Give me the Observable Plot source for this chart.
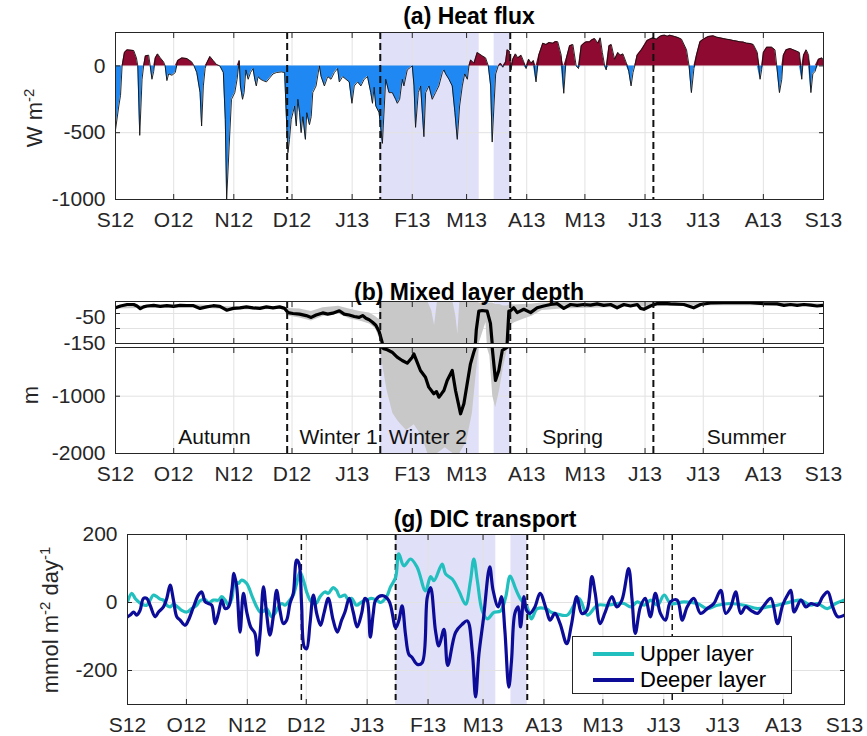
<!DOCTYPE html>
<html><head><meta charset="utf-8">
<script src="https://cdn.jsdelivr.net/npm/d3@7"></script>
<script src="https://cdn.jsdelivr.net/npm/@observablehq/plot@0.6"></script>
<style>
body{margin:0;background:#fff;}
#root{position:relative;width:867px;height:736px;font-family:"Liberation Sans",Arial,Helvetica,sans-serif;color:#262626;overflow:hidden;background:#fff}
#root svg{position:absolute;left:0}
.title{position:absolute;font-weight:bold;font-size:23px;line-height:23px;color:#000;transform:translateX(-50%);white-space:nowrap}
.ylab{position:absolute;font-size:22px;line-height:22px;color:#262626;transform:translate(-50%,-50%) rotate(-90deg);white-space:nowrap}
.ylab sup{font-size:0.68em;vertical-align:0.55em}
.legend{position:absolute;border:1px solid #262626;background:#fff;font-size:22px;color:#000}
.legend .row{position:absolute;left:20px;height:24px;display:flex;align-items:center}
.legend .sw{width:41px;height:4px;margin-right:6px}
</style></head>
<body><div id="root"></div>
<script>
// ---------------- DATA ----------------
const startDay = Date.UTC(2012, 8, 1); // day 0 = 1 Sep 2012
const tickLabels = ["S12","O12","N12","D12","J13","F13","M13","A13","M13","J13","J13","A13","S13"];
const boundaryDays = [88.5, 136.5, 203.5, 277.3];         // dashed season boundaries
const shadeDays = [[136.5, 187.5], [195.2, 203.5]];         // lavender periods
const seasonNames = ["Autumn", "Winter 1", "Winter 2", "Spring", "Summer"];
const seasonLabelDays = [51, 115, 161, 235.6, 325.3];

// (a) heat flux [day, W m-2]
const heatFlux = [[0,-480],[1.7,-300],[2.6,-220],[3.4,0],[4.6,100],[6.0,120],[9.4,115],[10.8,60],[11.5,0],[12.5,-520],[13.7,-100],[14.5,0],[15.4,75],[17.1,80],[17.9,0],[18.8,-100],[19.7,-40],[20.5,60],[21.7,90],[23.1,60],[24.8,30],[25.6,0],[26.5,-110],[27.4,-60],[29.1,-70],[30.8,-50],[32.1,40],[34.2,60],[36.8,55],[39.3,30],[40.5,0],[41.9,-50],[43.6,-200],[44.4,-450],[45.3,-150],[46.2,-20],[47.0,20],[48.7,70],[50.4,40],[52.1,10],[53.8,0],[55.6,-50],[56.6,-400],[57.3,-1000],[58.6,-600],[59.8,-250],[61.5,-200],[62.7,-100],[63.8,40],[64.4,-150],[65.5,-250],[66.3,-200],[67.2,-30],[68.4,-100],[69.6,-50],[70.9,-20],[71.8,-100],[72.6,-150],[73.5,-80],[74.7,-100],[76.1,-110],[77.8,-120],[79.5,-90],[81.2,-60],[82.9,-50],[85.5,-45],[87.2,-50],[88.0,-350],[88.9,-650],[89.7,-550],[90.6,-400],[91.5,-350],[92.3,-300],[93.2,-450],[94.0,-250],[94.9,-350],[95.7,-500],[96.6,-380],[97.9,-550],[98.6,-350],[100.0,-440],[100.9,-380],[101.7,-200],[103.4,-150],[105.1,0],[106.0,-80],[107.7,-150],[109.4,-80],[111.1,-100],[112.8,-50],[114.5,-20],[115.4,-120],[117.1,-80],[118.8,-100],[120.5,-120],[121.9,-280],[123.1,-150],[124.8,-120],[126.5,-150],[128.2,-100],[129.9,-80],[131.6,-200],[132.5,-280],[133.3,-160],[134.2,-300],[135.9,-350],[137.6,-580],[139.3,-100],[141.0,-200],[142.7,-200],[144.4,-250],[145.3,-280],[146.5,-250],[147.8,-100],[148.7,-150],[150.4,-30],[152.1,-10],[153.0,0],[153.9,-150],[154.7,-460],[156.1,-200],[157.3,-150],[159.0,-530],[159.9,-200],[161.6,-150],[163.3,-250],[165.0,-200],[166.7,-150],[168.5,-50],[169.3,-30],[170.2,-60],[171.9,-100],[173.6,-150],[175.0,-350],[176.2,-550],[177.4,-300],[178.8,-150],[180.0,-60],[181.4,-100],[182.2,0],[183.1,45],[184.8,20],[186.5,100],[189.1,75],[190.8,60],[192.2,0],[193.4,-150],[194.2,-570],[195.1,-300],[196.0,-60],[197.3,0],[198.5,20],[199.7,-10],[201.1,30],[201.9,120],[203.1,110],[203.9,-30],[204.8,50],[206.2,90],[207.4,60],[209.1,80],[210.5,30],[211.7,-20],[213.0,50],[214.3,20],[215.5,40],[216.8,-120],[218.2,80],[220.3,170],[222.0,160],[223.5,175],[225.5,170],[226.8,182],[228.0,180],[229.8,80],[231.1,-205],[232.3,50],[234.1,150],[235.8,160],[237.5,0],[238.7,-20],[240.1,150],[241.5,170],[242.7,180],[244.4,180],[245.6,195],[247.0,205],[248.7,170],[249.9,210],[251.0,100],[252.2,0],[253.0,-30],[254.4,150],[255.6,160],[257.3,50],[259.0,100],[260.3,80],[261.6,90],[263.4,20],[264.6,-40],[265.8,-150],[266.8,-50],[267.7,0],[268.9,80],[271.1,120],[272.8,160],[274.0,190],[275.4,200],[277.1,210],[278.9,200],[280.6,220],[281.8,228],[283.2,230],[284.5,222],[285.8,230],[288.3,220],[290.0,212],[291.8,200],[294.4,120],[295.7,0],[296.9,-200],[298.2,-20],[299.5,80],[301.3,180],[303.0,200],[305.6,220],[308.2,225],[310.0,215],[311.6,210],[313.3,205],[315.0,200],[316.8,196],[318.5,190],[320.2,186],[321.9,180],[323.7,178],[325.4,170],[327.1,168],[328.8,160],[330.9,100],[332.3,-100],[333.1,-30],[334.0,100],[335.7,140],[338.3,140],[340.0,120],[340.9,0],[342.3,-200],[343.5,-100],[344.3,80],[345.7,120],[347.8,130],[349.5,120],[351.2,110],[352.6,100],[353.8,-100],[354.7,80],[356.1,120],[357.3,80],[358.5,-200],[359.5,-60],[360.7,-40],[362.4,50],[364.2,60],[365,40]];

// (b) mixed layer depth [day, m]
const mld = [[0,-31],[2.6,-25],[6.0,-20],[9.4,-20],[11.1,-25],[12.8,-34],[14.5,-28],[16.2,-25],[19.7,-23],[23.1,-26],[26.5,-24],[29.9,-26],[33.3,-23],[36.8,-24],[40.2,-24],[43.6,-33],[47.0,-28],[50.4,-24],[53.8,-26],[57.3,-39],[60.7,-33],[64.1,-31],[67.5,-28],[70.9,-31],[74.4,-33],[77.8,-28],[81.2,-31],[84.6,-28],[87.2,-33],[88.9,-47],[91.5,-50],[94.9,-52],[98.3,-57],[100.9,-63],[103.4,-55],[106.8,-48],[109.4,-52],[112.0,-49],[115.4,-41],[117.9,-52],[120.5,-55],[123.1,-60],[125.6,-63],[127.4,-57],[129.1,-66],[130.8,-71],[132.5,-79],[134.2,-89],[135.9,-110],[137.3,-142],[138.3,-170],[140.1,-190],[142.6,-232],[145.2,-319],[147.8,-377],[150.4,-424],[153.0,-319],[153.8,-261],[155.5,-406],[157.2,-551],[159.8,-668],[161.5,-842],[164.1,-958],[165.5,-920],[166.7,-1017],[168.0,-960],[169.3,-900],[171.0,-726],[173.6,-551],[175.3,-900],[177.9,-1307],[179.6,-1132],[181.3,-783],[183.0,-435],[184.7,-232],[186.0,-105],[187.3,-42],[189.0,-40],[191.6,-42],[193.3,-83],[194.2,-150],[195.9,-726],[197.6,-551],[199.4,-202],[201.9,-150],[202.8,-42],[203.6,-41],[205.3,-31],[207.1,-47],[210.5,-36],[214.0,-47],[217.4,-31],[220.8,-25],[224.3,-20],[227.7,-17],[231.1,-33],[234.6,-20],[238.0,-23],[241.4,-20],[244.9,-22],[248.3,-18],[251.7,-23],[255.2,-20],[258.6,-31],[262.1,-20],[265.5,-25],[269.0,-20],[270.7,-33],[272.4,-36],[275.8,-25],[279.3,-17],[282.7,-16],[286.1,-18],[293.0,-20],[298.1,-31],[301.6,-20],[306.7,-15],[313.6,-14],[320.5,-14],[327.3,-14],[334.2,-17],[341.1,-18],[344.6,-23],[348.0,-20],[351.4,-23],[354.9,-20],[358.3,-22],[361.7,-25],[365,-23]];
// (b) MLD uncertainty band [day, deep bound, shallow bound]
const mldBand = [[0,-35,-27],[40,-30,-20],[60,-38,-28],[87,-37,-28],[89,-58,-33],[95,-65,-35],[101,-75,-43],[107,-60,-31],[115,-52,-26],[121,-68,-36],[126,-75,-43],[131,-85,-48],[134,-100,-60],[136,-130,-70],[136.6,-170,-10],[138,-500,-10],[140,-900,-10],[143,-1300,-10],[146,-1450,-10],[150,-1600,-10],[154,-1500,-10],[158,-1700,-10],[161,-2000,-10],[163,-2000,-40],[164.5,-2000,-90],[166,-2000,-10],[170,-1900,-10],[174,-2000,-10],[175.5,-2000,-60],[176.5,-2000,-120],[177.5,-2000,-10],[181,-1800,-10],[184,-1300,-10],[186,-600,-12],[187.5,-150,-15],[191,-80,-15],[193,-300,-15],[194.5,-1000,-15],[196,-1200,-20],[198,-900,-20],[200,-500,-25],[202,-200,-25],[203.5,-90,-20],[206,-80,-22],[210,-70,-20],[215,-58,-18],[220,-40,-15],[230,-35,-14],[260,-30,-14],[300,-24,-11],[340,-24,-12],[365,-27,-18]];

// (g) DIC transport [day, mmol m-2 day-1]
const upperLayer = [[0,2],[2.2,27],[3.9,12],[5.6,2],[7.3,-5],[9.8,-8],[11.5,7],[13.2,22],[14.9,17],[16.6,10],[18.3,7],[20.0,-8],[21.7,-13],[23.4,-5],[25.1,-11],[27.6,-23],[30.2,-28],[32.7,-18],[35.3,-8],[36.9,5],[39.5,9],[41.2,-1],[43.7,7],[46.3,7],[48.0,17],[49.7,7],[51.4,-8],[53.1,12],[54.7,61],[56.4,56],[58.1,66],[60.7,56],[63.2,22],[65.8,-13],[67.5,-28],[69.2,-26],[70.8,-18],[73.4,-42],[75.1,-32],[76.8,-13],[78.5,-3],[80.2,-8],[81.9,2],[84.4,22],[86.1,56],[87.8,90],[89.5,66],[91.2,31],[92.9,7],[94.6,-3],[96.3,-1],[98.0,17],[100.5,31],[102.2,27],[104.7,44],[106.4,36],[108.1,17],[110.7,22],[112.4,7],[114.1,12],[116.6,-8],[119.2,2],[121.7,7],[124.2,12],[126.8,7],[128.8,0],[131.9,17],[133.9,46],[136.5,74],[138.1,143],[140.7,108],[144.1,128],[147.5,103],[151.7,34],[154.3,76],[156.0,64],[160.2,113],[161.9,84],[165.3,69],[168.7,34],[172.1,-5],[174.6,64],[176.3,128],[178.1,64],[180.6,-25],[183.2,-48],[186.5,-29],[189.9,-25],[192.5,15],[194.8,78],[197.6,40],[200.1,10],[203.5,-15],[205.6,-48],[208.6,-18],[213.7,-20],[215.4,-28],[218.8,-34],[223.9,-37],[229.8,12],[234.1,-37],[239.2,-8],[244.3,-8],[249.4,-3],[252.8,-3],[256.2,-13],[259.6,2],[263.0,-8],[266.4,7],[269.8,-8],[273.2,22],[276.5,-3],[283.3,2],[290.1,-3],[295.2,-18],[300.3,-8],[307.1,-3],[313.9,-8],[320.7,-18],[325.8,-13],[330.8,-8],[337.6,2],[342.7,7],[347.8,-8],[351.2,-3],[356.3,-18],[360.5,-3],[365,7]];
const deeperLayer = [[0,-42],[1.4,-37],[3.1,-28],[4.7,-37],[6.4,-23],[8.1,12],[9.8,12],[11.5,-8],[14.1,-42],[15.8,-28],[18.3,-13],[20.0,12],[21.7,51],[23.4,7],[25.1,-42],[26.8,-52],[29.3,-67],[31.0,-52],[33.6,-13],[36.1,22],[37.8,31],[39.5,2],[41.2,-3],[42.9,-8],[44.6,-62],[46.3,-32],[48.0,7],[49.7,-18],[51.4,-13],[53.1,36],[54.2,86],[55.6,46],[57.3,-87],[59.0,27],[60.7,-28],[62.7,-72],[64.9,-91],[66.1,-155],[67.5,-91],[69.2,46],[70.8,-32],[72.5,-96],[74.2,-42],[75.9,36],[77.6,-23],[79.3,-62],[81.0,-52],[82.7,-3],[84.4,27],[86.1,125],[87.3,115],[88.6,-3],[90.0,-131],[91.2,-136],[92.9,-62],[94.6,22],[96.3,-32],[98.3,-67],[100.0,-32],[102.2,12],[104.7,-52],[106.8,-87],[109.0,-52],[110.7,-28],[112.9,12],[114.9,-28],[116.9,-72],[119.2,-32],[120.8,12],[122.0,7],[123.6,-102],[125.1,-32],[126.4,8],[129.7,20],[133.1,5],[136.5,-74],[138.1,-54],[139.8,-10],[141.5,-93],[143.2,-152],[144.9,-162],[147.5,-182],[150.0,-177],[152.6,15],[154.3,44],[156.8,-84],[158.5,-128],[161.1,-79],[163.0,-185],[167.0,-88],[170.4,-64],[173.0,-54],[175.5,-143],[177.2,-278],[178.9,-152],[181.2,-48],[184.4,105],[186.1,36],[188.7,-13],[190.4,17],[192.1,-82],[194.1,-249],[195.5,-170],[197.2,-32],[198.9,-13],[200.1,-72],[201.8,17],[203.1,-23],[204.8,-32],[207.4,-13],[210.0,27],[213.3,-23],[215.1,-52],[217.6,-32],[220.2,-62],[223.6,-121],[226.1,-62],[228.7,17],[231.3,-32],[233.8,-23],[236.4,76],[238.1,27],[240.6,-62],[243.2,-28],[246.6,17],[249.1,-13],[251.7,7],[255.1,100],[256.8,12],[258.5,-91],[261.1,-13],[263.6,12],[266.2,-42],[268.7,27],[271.3,-32],[273.9,-52],[276.4,2],[279.8,7],[282.4,-52],[284.9,-13],[288.3,12],[291.7,-32],[295.1,-18],[298.5,-3],[302.0,36],[304.5,-32],[307.1,-13],[309.6,31],[312.2,-32],[314.7,-13],[317.3,-23],[320.7,-32],[324.1,-8],[327.5,12],[330.9,-62],[333.5,-8],[336.0,22],[337.7,36],[339.4,-28],[342.8,7],[345.4,-13],[347.9,-3],[351.3,-8],[353.9,17],[356.5,31],[359.0,-13],[361.6,-42],[365,-37]];

// ---------------- RENDER ----------------
const FONT = '"Liberation Sans", Arial, Helvetica, sans-serif';
const RED = "#8e0a30", BLUE = "#1f88f2", LAV = "#e0e0f8", GRAY = "#c8c8c8", GRID = "#e2e2e2", AX = "#262626";
const CYAN = "#22bfbf", NAVY = "#0c0c99";
const toDate = d => new Date(startDay + d * 864e5);
const monthTicks = tickLabels.map((_, i) => new Date(Date.UTC(2012, 8 + i, 1)));
const fmtMonth = d => tickLabels[monthTicks.findIndex(m => +m === +d)];
const fmtNum = d => String(d);
const xDomain = [toDate(0), toDate(365)];

const heat = heatFlux.map(([d, v]) => ({date: toDate(d), v}));
const mldRows = mld.map(([d, v]) => ({date: toDate(d), v}));
const bandRows = mldBand.map(([d, lo, hi]) => ({date: toDate(d), lo, hi}));
const upRows = upperLayer.map(([d, v]) => ({date: toDate(d), v}));
const dpRows = deeperLayer.map(([d, v]) => ({date: toDate(d), v}));
const shades = shadeDays.map(([a, b]) => ({x1: toDate(a), x2: toDate(b)}));
const bounds = boundaryDays.map(toDate);
const seasons = seasonNames.map((name, i) => ({name, date: toDate(seasonLabelDays[i])}));

const root = document.getElementById("root");
function place(svg, top) { svg.style.top = top + "px"; root.appendChild(svg); }
function addDiv(cls, html, left, top) {
  const el = document.createElement("div"); el.className = cls; el.innerHTML = html;
  el.style.left = left + "px"; el.style.top = top + "px"; root.appendChild(el); return el;
}
const baseStyle = {fontFamily: FONT, fontSize: "21px", color: AX, background: "transparent", overflow: "visible"};
function frameTicks(yTicks) {
  return [
    Plot.axisX(monthTicks, {anchor: "bottom", tickSize: -5, tickFormat: () => "", stroke: AX}),
    Plot.axisX(monthTicks, {anchor: "top", tickSize: -5, tickFormat: () => "", stroke: AX}),
    Plot.axisY(yTicks, {anchor: "left", tickSize: -5, tickFormat: () => "", stroke: AX}),
    Plot.axisY(yTicks, {anchor: "right", tickSize: -5, tickFormat: () => "", stroke: AX})
  ];
}

// ---- Panel (a) ----
place(Plot.plot({
  width: 867, height: 240, marginTop: 32, marginBottom: 41, marginLeft: 115, marginRight: 44,
  style: baseStyle,
  x: {type: "utc", domain: xDomain, label: null},
  y: {domain: [-1000, 250], label: null},
  marks: [
    Plot.rect(shades, {x1: "x1", x2: "x2", fill: LAV}),
    Plot.gridX(monthTicks, {stroke: GRID, strokeOpacity: 1}),
    Plot.gridY([-500, 0], {stroke: GRID, strokeOpacity: 1}),
    Plot.areaY(heat, {x: "date", y1: 0, y2: d => Math.max(0, d.v), fill: RED}),
    Plot.areaY(heat, {x: "date", y1: 0, y2: d => Math.min(0, d.v), fill: BLUE}),
    Plot.line(heat, {x: "date", y: "v", stroke: "#111", strokeWidth: 0.9}),
    Plot.ruleX(bounds, {stroke: "#111", strokeWidth: 2, strokeDasharray: "7,4"}),
    Plot.frame({stroke: AX}),
    ...frameTicks([-1000, -500, 0]),
    Plot.axisX(monthTicks, {anchor: "bottom", tickSize: 0, tickPadding: 13, tickFormat: fmtMonth, fill: AX}),
    Plot.axisY([-1000, -500, 0], {anchor: "left", tickSize: 0, tickPadding: 10, tickFormat: fmtNum, fill: AX})
  ]
}), 0);

// ---- Panel (b) upper (broken axis, -150 .. -10 m) ----
place(Plot.plot({
  width: 867, height: 60, marginTop: 11, marginBottom: 7, marginLeft: 115, marginRight: 44,
  style: baseStyle,
  x: {type: "utc", domain: xDomain, label: null},
  y: {domain: [-150, -10], label: null},
  marks: [
    Plot.rect(shades, {x1: "x1", x2: "x2", fill: LAV}),
    Plot.gridX(monthTicks, {stroke: GRID, strokeOpacity: 1}),
    Plot.gridY([-50, -100], {stroke: GRID, strokeOpacity: 1}),
    Plot.areaY(bandRows, {x: "date", y1: "lo", y2: "hi", fill: GRAY, clip: true}),
    Plot.line(mldRows, {x: "date", y: "v", stroke: "#000", strokeWidth: 3.2, clip: true}),
    Plot.ruleX(bounds, {stroke: "#111", strokeWidth: 2, strokeDasharray: "7,4"}),
    Plot.frame({stroke: AX}),
    ...frameTicks([-50, -100]),
    Plot.axisY([-50], {anchor: "left", tickSize: 0, tickPadding: 10, dy: 4, tickFormat: fmtNum, fill: AX}),
    Plot.axisY([-150], {anchor: "left", tickSize: 0, tickPadding: 10, tickFormat: fmtNum, fill: AX})
  ]
}), 290);

// ---- Panel (b) lower (-2000 .. -150 m) ----
place(Plot.plot({
  width: 867, height: 140, marginTop: 7, marginBottom: 27, marginLeft: 115, marginRight: 44,
  style: baseStyle,
  x: {type: "utc", domain: xDomain, label: null},
  y: {domain: [-2000, -150], label: null},
  marks: [
    Plot.rect(shades, {x1: "x1", x2: "x2", fill: LAV}),
    Plot.gridX(monthTicks, {stroke: GRID, strokeOpacity: 1}),
    Plot.gridY([-1000], {stroke: GRID, strokeOpacity: 1}),
    Plot.areaY(bandRows, {x: "date", y1: "lo", y2: "hi", fill: GRAY, clip: true}),
    Plot.line(mldRows, {x: "date", y: "v", stroke: "#000", strokeWidth: 3.2, clip: true}),
    Plot.ruleX(bounds, {stroke: "#111", strokeWidth: 2, strokeDasharray: "7,4"}),
    Plot.text(seasons, {x: "date", y: () => -1720, text: "name", fontSize: 21, fill: "#111"}),
    Plot.frame({stroke: AX}),
    ...frameTicks([-1000]),
    Plot.axisX(monthTicks, {anchor: "bottom", tickSize: 0, tickPadding: 13, tickFormat: fmtMonth, fill: AX}),
    Plot.axisY([-1000, -2000], {anchor: "left", tickSize: 0, tickPadding: 10, tickFormat: fmtNum, fill: AX})
  ]
}), 340);

// ---- Panel (g) ----
place(Plot.plot({
  width: 867, height: 206, marginTop: 4, marginBottom: 32, marginLeft: 127, marginRight: 23,
  style: baseStyle,
  x: {type: "utc", domain: xDomain, label: null},
  y: {domain: [-300, 200], label: null},
  marks: [
    Plot.rect(shades, {x1: "x1", x2: "x2", fill: LAV}),
    Plot.gridX(monthTicks, {stroke: GRID, strokeOpacity: 1}),
    Plot.gridY([-200, 0], {stroke: GRID, strokeOpacity: 1}),
    Plot.ruleX(bounds, {stroke: "#111", strokeWidth: (d, i) => (i === 0 || i === 3) ? 1.5 : 2, strokeDasharray: "6,4"}),
    Plot.line(upRows, {x: "date", y: "v", stroke: CYAN, strokeWidth: 3.2, curve: "catmull-rom", clip: true}),
    Plot.line(dpRows, {x: "date", y: "v", stroke: NAVY, strokeWidth: 3.2, curve: "catmull-rom", clip: true}),
    Plot.frame({stroke: AX}),
    ...frameTicks([-200, 0, 200]),
    Plot.axisX(monthTicks, {anchor: "bottom", tickSize: 0, tickPadding: 13, tickFormat: fmtMonth, fill: AX}),
    Plot.axisY([-200, 0, 200], {anchor: "left", tickSize: 0, tickPadding: 10, tickFormat: fmtNum, fill: AX})
  ]
}), 530);

// ---- titles, axis labels, legend ----
addDiv("title", "(a) Heat flux", 469, 5);
addDiv("title", "(b) Mixed layer depth", 469, 281);
addDiv("title", "(g) DIC transport", 485, 508);
addDiv("ylab", "W m<sup>-2</sup>", 32, 118);
addDiv("ylab", "m", 31, 395);
addDiv("ylab", "mmol m<sup>-2</sup> day<sup>-1</sup>", 48, 620);
const lg = addDiv("legend", "", 572, 636);
lg.style.width = "218px"; lg.style.height = "56px";
[["Upper layer", CYAN], ["Deeper layer", NAVY]].forEach(([name, c], i) => {
  const row = document.createElement("div"); row.className = "row";
  row.style.top = (5 + i * 26) + "px";
  row.innerHTML = `<span class="sw" style="background:${c}"></span><span>${name}</span>`;
  lg.appendChild(row);
});
</script></body></html>
